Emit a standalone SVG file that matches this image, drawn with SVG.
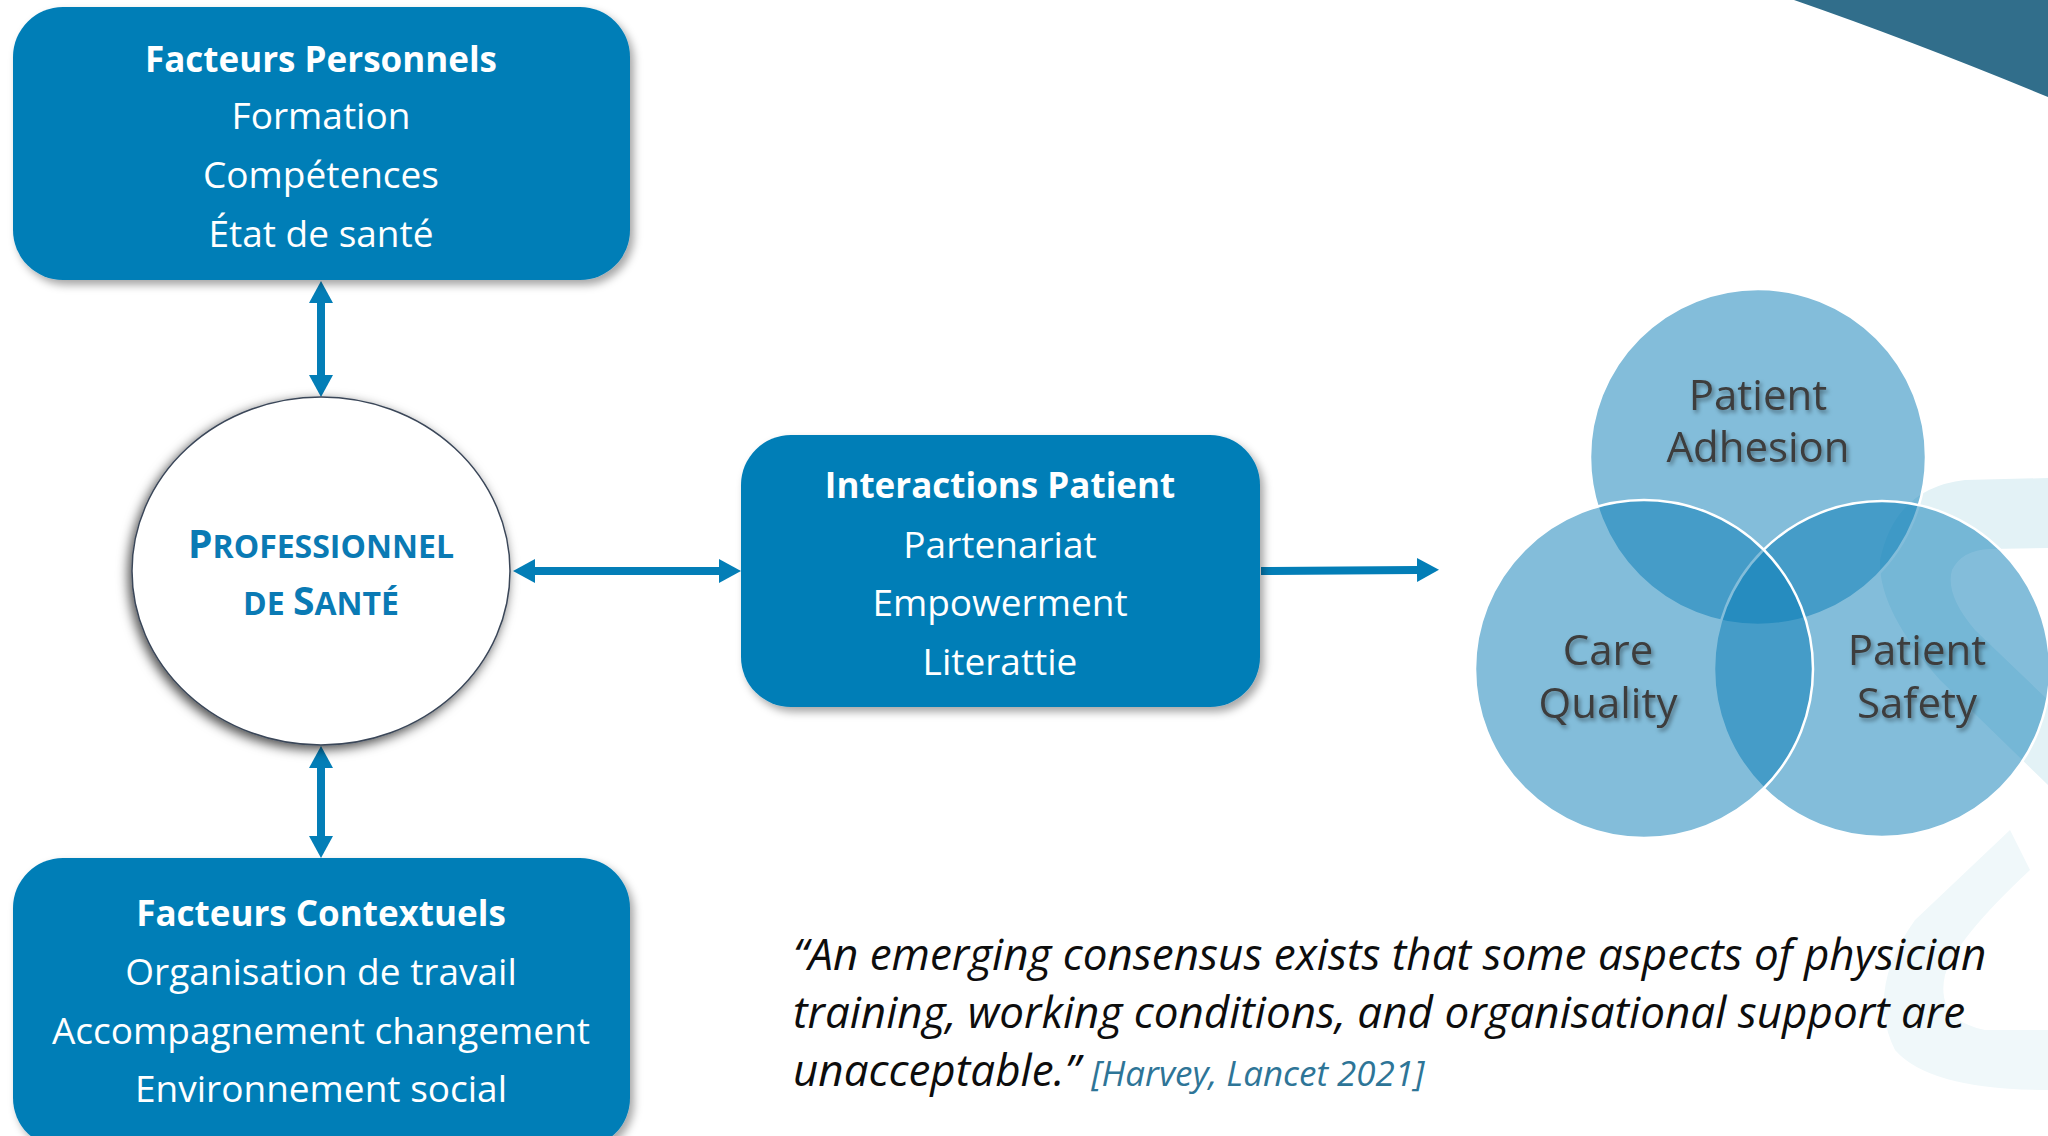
<svg xmlns="http://www.w3.org/2000/svg" width="2048" height="1136" viewBox="0 0 2048 1136">
<defs>
<style>
.box{fill:#037EB7;filter:url(#bshadow);}
.t{font-family:"Open Sans","Liberation Sans",sans-serif;fill:#FFFFFF;text-anchor:middle;font-size:37px;}
.tb{font-weight:bold;font-size:35px;}
.conn{stroke:#037EB7;stroke-width:8;fill:none;}
.venn{fill:#077BB6;fill-opacity:0.5;stroke:#FFFFFF;stroke-width:2.5;}
.vt{font-family:"Open Sans","Liberation Sans",sans-serif;font-size:42px;fill:#3D3D3D;text-anchor:middle;filter:url(#tshadow);}
.pro{font-family:"Open Sans","Liberation Sans",sans-serif;font-weight:bold;fill:#0A7AB4;text-anchor:middle;}
.q{font-family:"Open Sans","Liberation Sans",sans-serif;font-style:italic;font-size:44px;fill:#0D0D0D;}
</style>
<filter id="bshadow" x="-10%" y="-10%" width="125%" height="130%">
<feDropShadow dx="4" dy="5" stdDeviation="4" flood-color="#000" flood-opacity="0.35"/>
</filter>
<filter id="eshadow" x="-15%" y="-15%" width="130%" height="135%">
<feDropShadow dx="-3" dy="4" stdDeviation="6" flood-color="#000" flood-opacity="0.7"/>
</filter>
<filter id="tshadow" x="-10%" y="-20%" width="120%" height="150%">
<feDropShadow dx="2" dy="3" stdDeviation="2" flood-color="#000" flood-opacity="0.4"/>
</filter>
<marker id="ah" viewBox="0 0 22 24" refX="0" refY="12" markerWidth="22" markerHeight="24" markerUnits="userSpaceOnUse" orient="auto-start-reverse">
<path d="M0,0 L22,12 L0,24 Z" fill="#037EB7"/>
</marker>
</defs>
<rect width="2048" height="1136" fill="#FFFFFF"/>

<g id="background">
<path d="M1794,0 Q1915,42 2048,97 L2048,0 Z" fill="#316E8B"/>
<path d="M2048,478 L1965,480 Q1895,488 1880,560 Q1878,610 1940,680 L2048,785 L2048,700 L1975,630 Q1945,595 1952,570 Q1962,550 1990,549 L2048,548 Z" fill="#E3F2F6"/>
<path d="M2010,830 L1915,920 Q1865,990 1895,1050 Q1930,1090 2048,1090 L2048,1030 L1985,1030 Q1935,1020 1945,975 Q1955,940 2030,870 Z" fill="#F0F8FA"/>
</g>

<g id="connectors">
<line class="conn" x1="321" y1="303" x2="321" y2="375" marker-start="url(#ah)" marker-end="url(#ah)"/>
<line class="conn" x1="321" y1="768" x2="321" y2="836" marker-start="url(#ah)" marker-end="url(#ah)"/>
<line class="conn" x1="535" y1="571" x2="719" y2="571" marker-start="url(#ah)" marker-end="url(#ah)"/>
<line class="conn" x1="1261" y1="571" x2="1417" y2="570" marker-end="url(#ah)"/>
</g>

<g id="node-facteurs-personnels">
<rect class="box" x="13" y="7" width="617" height="273" rx="50"/>
<text class="t tb" x="321" y="72">Facteurs Personnels</text>
<text class="t" x="321" y="129">Formation</text>
<text class="t" x="321" y="188">Compétences</text>
<text class="t" x="321" y="247">État de santé</text>
</g>

<g id="node-professionnel">
<ellipse cx="321" cy="571" rx="189" ry="174" fill="#FFFFFF" stroke="#3A4658" stroke-width="1.5" filter="url(#eshadow)"/>
<text class="pro" x="321" y="558"><tspan font-size="39">P</tspan><tspan font-size="32">ROFESSIONNEL</tspan></text>
<text class="pro" x="321" y="615"><tspan font-size="32">DE </tspan><tspan font-size="39">S</tspan><tspan font-size="32">ANTÉ</tspan></text>
</g>

<g id="node-facteurs-contextuels">
<rect class="box" x="13" y="858" width="617" height="290" rx="50"/>
<text class="t tb" x="321" y="926">Facteurs Contextuels</text>
<text class="t" x="321" y="985">Organisation de travail</text>
<text class="t" x="321" y="1044">Accompagnement changement</text>
<text class="t" x="321" y="1102">Environnement social</text>
</g>

<g id="node-interactions">
<rect class="box" x="741" y="435" width="519" height="272" rx="50"/>
<text class="t tb" x="1000" y="498">Interactions Patient</text>
<text class="t" x="1000" y="558">Partenariat</text>
<text class="t" x="1000" y="616">Empowerment</text>
<text class="t" x="1000" y="675">Literattie</text>
</g>

<g id="node-venn">
<circle class="venn" cx="1758" cy="457" r="168"/>
<circle class="venn" cx="1882" cy="669" r="168"/>
<circle class="venn" cx="1644" cy="669" r="169"/>
<text class="vt" x="1758" y="410">Patient</text>
<text class="vt" x="1758" y="462">Adhesion</text>
<text class="vt" x="1608" y="665">Care</text>
<text class="vt" x="1608" y="718">Quality</text>
<text class="vt" x="1917" y="665">Patient</text>
<text class="vt" x="1917" y="718">Safety</text>
</g>

<g id="quote">
<text class="q" x="793" y="970">“An emerging consensus exists that some aspects of physician</text>
<text class="q" x="793" y="1028">training, working conditions, and organisational support are</text>
<text class="q" x="793" y="1086">unacceptable.” <tspan font-size="35" fill="#2E7597">[Harvey, Lancet 2021]</tspan></text>
</g>
</svg>
